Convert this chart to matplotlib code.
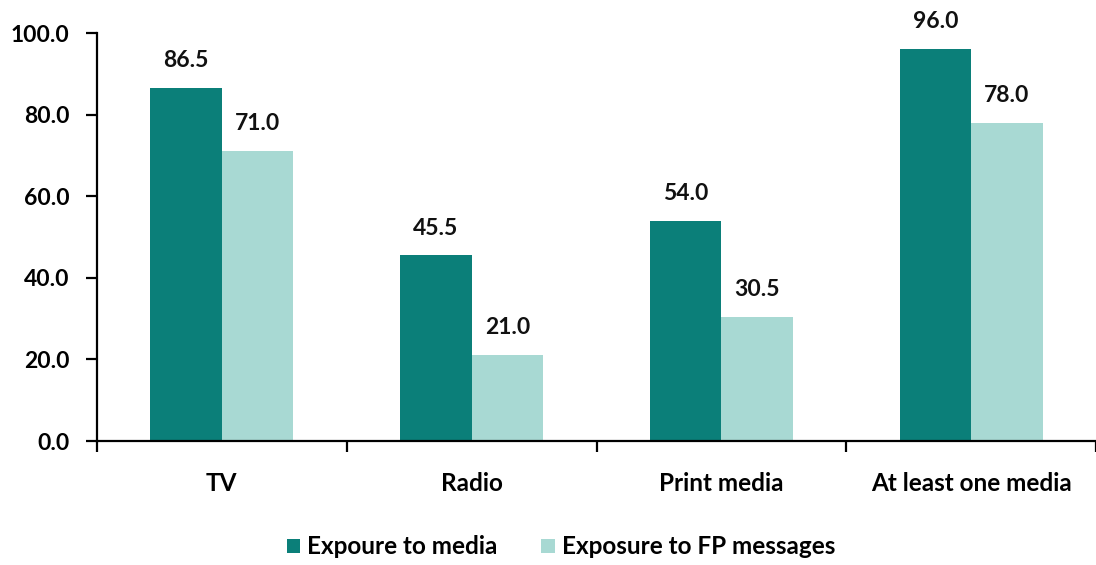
import matplotlib
matplotlib.use("Agg")
import matplotlib.pyplot as plt
import numpy as np

categories = ["TV", "Radio", "Print media", "At least one media"]
media = [86.5, 45.5, 54.0, 96.0]
fp_messages = [71.0, 21.0, 30.5, 78.0]
series_labels = ["Expoure to media", "Exposure to FP messages"]
yticks = [0, 20, 40, 60, 80, 100]

plt.rcParams['font.family'] = ['Lato', 'DejaVu Sans']
FS_NUM = 16.5
FS_TXT = 17.5
FW = "bold"

fig = plt.figure(figsize=(10.96, 5.65), dpi=100)
ax = fig.add_axes([97/1096, 124/565, 1 - 97/1096, (532-124)/565])

x = np.arange(len(categories))
w = 0.286
dark = "#0b7f79"
light = "#a8d9d3"
b1 = ax.bar(x - w/2, media, w, color=dark, label=series_labels[0])
b2 = ax.bar(x + w/2, fp_messages, w, color=light, label=series_labels[1])

for bars, vals in ((b1, media), (b2, fp_messages)):
    for r, v in zip(bars, vals):
        ax.text(r.get_x() + r.get_width()/2, v + 6.7, f"{v:.1f}", ha="center", va="center",
                fontsize=FS_NUM, fontweight=FW, color="#111111")

ax.set_ylim(0, 100)
ax.set_xlim(-0.5, (1096-223)/252)
ax.set_yticks(yticks)
ax.set_yticklabels([f"{v:.1f}" for v in yticks], fontsize=FS_NUM, fontweight=FW)
ax.set_xticks(np.arange(len(categories) + 1) - 0.5)
ax.set_xticklabels([])
for i, c in enumerate(categories):
    ax.text(i, -10.3, c, ha="center", va="center", fontsize=FS_TXT, fontweight=FW,
            transform=ax.transData)
ax.tick_params(axis="y", direction="out", length=8, width=1.6, pad=12)
ax.tick_params(axis="x", direction="out", length=8, width=1.6)
for s in ("top", "right"):
    ax.spines[s].set_visible(False)
ax.spines["left"].set_linewidth(1.6)
ax.spines["bottom"].set_linewidth(1.6)

fig.legend(handles=[b1, b2], labels=series_labels, loc="center", bbox_to_anchor=(561/1096, 1 - 547/565),
           ncol=2, frameon=False, prop={'weight': FW, 'size': FS_TXT},
           handlelength=0.55, handleheight=0.55, handletextpad=0.3, columnspacing=1.8)

fig.savefig("out.png", dpi=100)
